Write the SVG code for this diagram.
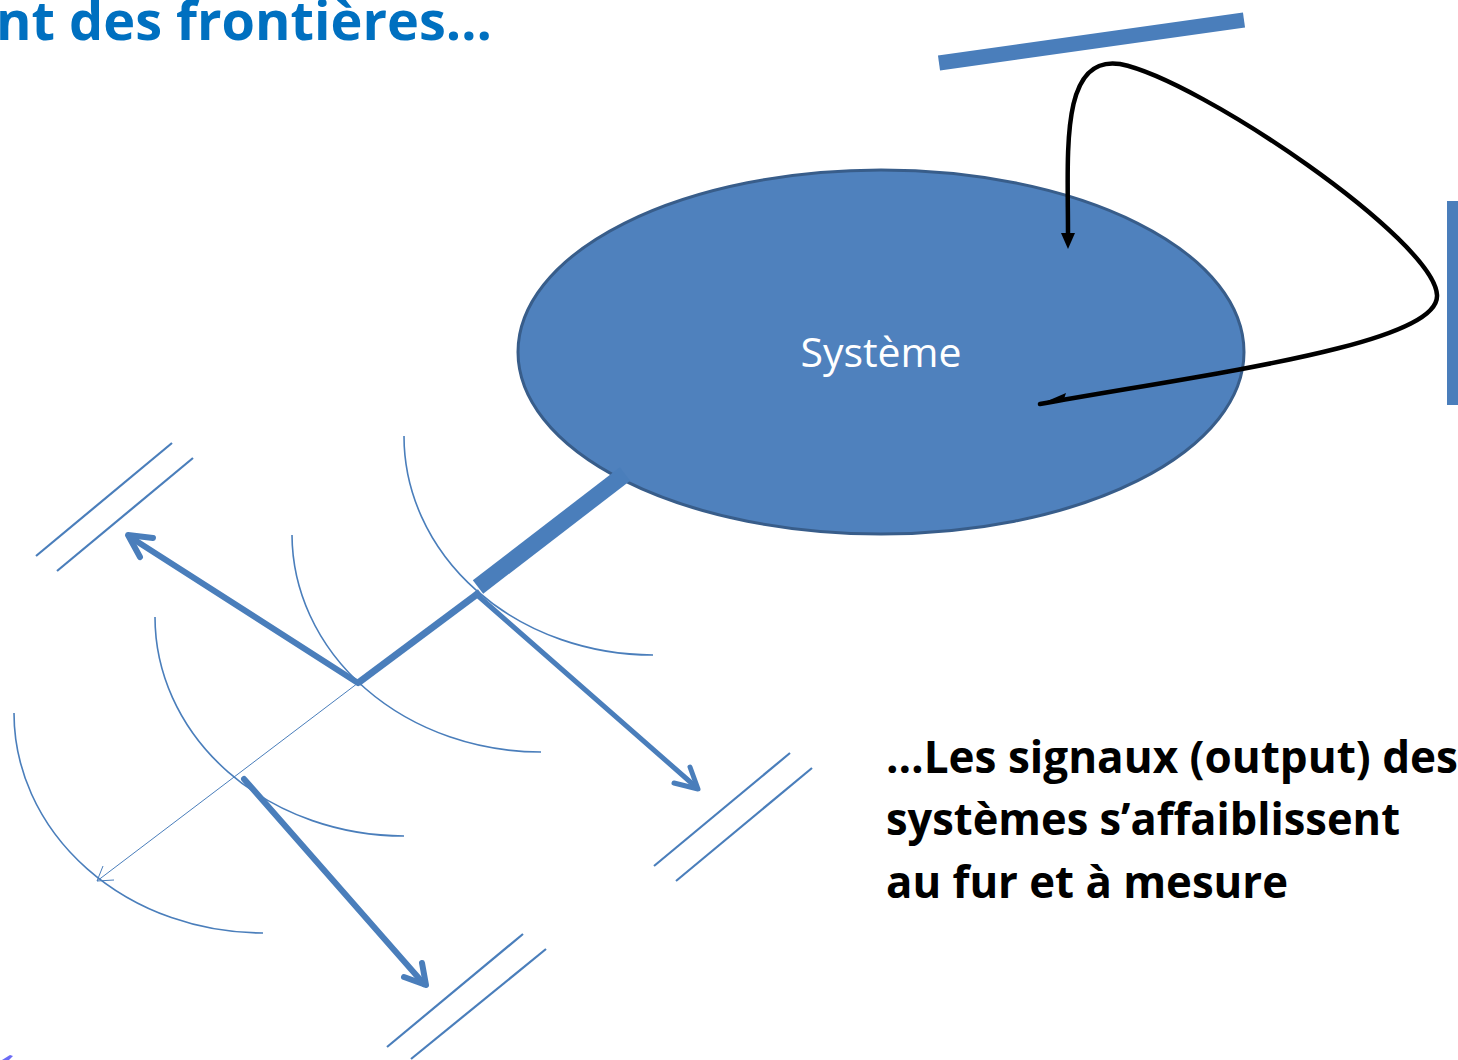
<svg xmlns="http://www.w3.org/2000/svg" width="1458" height="1060" viewBox="0 0 1458 1060">
<defs>
<style>
.blue{stroke:#4A7EBB;fill:none;stroke-linecap:round;stroke-linejoin:round}
.arc{stroke:#4A7EBB;fill:none;stroke-width:1.6}
.pair{stroke:#4A7EBB;fill:none;stroke-width:2.2}
.title{font-family:"Open Sans","Liberation Sans",sans-serif;font-weight:bold;fill:#0070C0}
.body{font-family:"Open Sans","Liberation Sans",sans-serif;font-weight:bold;fill:#000}
</style>
<marker id="blk" markerWidth="16" markerHeight="14" refX="1" refY="7" orient="auto" markerUnits="userSpaceOnUse" viewBox="0 0 16 14">
<path d="M0,0 L16,7 L0,14 z" fill="#000"/>
</marker>
</defs>
<rect width="1458" height="1060" fill="#fff"/>
<text class="title" x="-4" y="40" font-size="54" textLength="496" lengthAdjust="spacingAndGlyphs">nt des frontières…</text>

<g id="system">
<ellipse cx="881" cy="352" rx="363" ry="182" fill="#4F81BD" stroke="#385D8A" stroke-width="3"/>
<text x="881" y="367" font-family="'Open Sans','Liberation Sans',sans-serif" font-size="41" fill="#fff" text-anchor="middle">Système</text>
</g>

<g id="barriers">
<line x1="939" y1="63" x2="1244" y2="20" stroke="#4A7EBB" stroke-width="15"/>
<rect x="1447" y="201" width="12" height="204" fill="#4A7EBB"/>
<line class="pair" x1="36" y1="556" x2="172" y2="443"/>
<line class="pair" x1="57" y1="571" x2="193" y2="458"/>
<line class="pair" x1="654" y1="866" x2="790" y2="753"/>
<line class="pair" x1="676" y1="881" x2="812" y2="768"/>
<line class="pair" x1="387" y1="1047" x2="523" y2="934"/>
<line class="pair" x1="411" y1="1059" x2="546" y2="949"/>
</g>

<g id="waves">
<path class="arc" d="M404,436 A249,219 0 0 0 653,655"/>
<path class="arc" d="M292,535 A249,218 0 0 0 541,752"/>
<path class="arc" d="M155,617 A249,219 0 0 0 404,836"/>
<path class="arc" d="M14,713 A249,220 0 0 0 263,933"/>
</g>

<g id="connectors">
<line x1="625" y1="474" x2="478" y2="587" stroke="#4A7EBB" stroke-width="17"/>
<line x1="480" y1="592" x2="358" y2="683" stroke="#4A7EBB" stroke-width="7"/>
<line x1="358" y1="683" x2="97" y2="881" stroke="#4A7EBB" stroke-width="1"/>
<polyline points="103,866 97,881 114,880" fill="none" stroke="#4A7EBB" stroke-width="1"/>
<line class="blue" x1="358" y1="683" x2="130" y2="537" stroke-width="6"/>
<polyline class="blue" points="153,538 128,535 140,557" stroke-width="6"/>
<line class="blue" x1="476" y1="594" x2="696" y2="787" stroke-width="5"/>
<polyline class="blue" points="690,767 698,789 674,783" stroke-width="5"/>
<line class="blue" x1="244" y1="779" x2="424" y2="984" stroke-width="6"/>
<polyline class="blue" points="422,963 426,985 404,977" stroke-width="6"/>
<path d="M1040,404 C1200,375 1440,345 1437,295 C1434,240 1200,80 1120,64 C1060,55 1068,150 1068,234" fill="none" stroke="#000" stroke-width="4.5" stroke-linecap="round" marker-end="url(#blk)"/>
<path d="M1038,405 L1066,393 L1064,399 z" fill="#000"/>
</g>

<polygon points="2,1060 10,1055 13,1056 9,1060" fill="#6B6BF5"/>

<g id="caption">
<text class="body" x="886" y="773" font-size="44" textLength="572" lengthAdjust="spacingAndGlyphs">…Les signaux (output) des</text>
<text class="body" x="886" y="835" font-size="44" textLength="514" lengthAdjust="spacingAndGlyphs">systèmes s’affaiblissent</text>
<text class="body" x="886" y="898" font-size="44" textLength="402" lengthAdjust="spacingAndGlyphs">au fur et à mesure</text>
</g>
</svg>
